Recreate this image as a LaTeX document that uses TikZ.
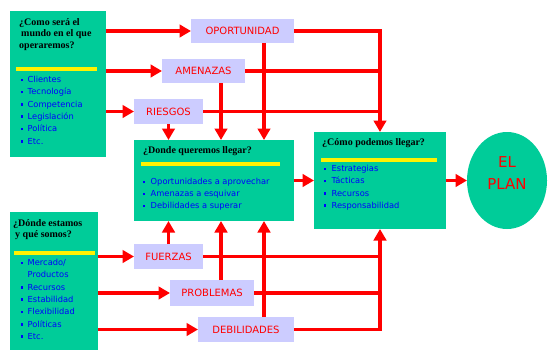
\documentclass[tikz,border=0pt]{standalone}
\usepackage{fontspec}
\setmainfont{Liberation Serif}
\setsansfont{DejaVu Sans}
\usetikzlibrary{arrows.meta,shapes.geometric}
\definecolor{boxgreen}{RGB}{0,204,153}
\definecolor{lav}{RGB}{204,204,255}
\newcommand\bul{\makebox[6.5pt][l]{\rule[1.5pt]{2pt}{2.5pt}}}
\begin{document}
\begin{tikzpicture}[x=1pt,y=-1pt,
  gbox/.style={fill=boxgreen,draw=none,inner sep=0,outer sep=0},
  lbox/.style={fill=lav,inner sep=0,outer sep=0,text=red,font=\sffamily\fontsize{10}{12}\selectfont},
  ttl/.style={anchor=north west,inner sep=0,font=\rmfamily\bfseries\fontsize{10}{11.5}\selectfont,align=left},
  lst/.style={anchor=north west,inner sep=0,text=blue,font=\sffamily\fontsize{8.3}{12.3}\selectfont,align=left},
  conn/.style={draw=red,line width=3.8pt},
  arr/.style={conn,-{Triangle[length=11.5pt,width=12.5pt]}},
  yl/.style={draw=yellow,line width=3.2pt}]
\useasboundingbox (0,0) rectangle (553,353);
\fill[white] (0,0) rectangle (553,353);
% green boxes
\node[gbox,minimum width=96pt,minimum height=146pt] (ltop) at (58,84) {};
\node[gbox,minimum width=88pt,minimum height=138pt] (lbot) at (54,281) {};
\node[gbox,minimum width=160pt,minimum height=81pt] (donde) at (214,180.5) {};
\node[gbox,minimum width=132pt,minimum height=97pt] (como) at (380,180.5) {};
\node[ellipse,gbox,minimum width=80pt,minimum height=97pt] (plan) at (507,180.5) {};
% lavender boxes
\node[lbox,minimum width=103pt,minimum height=24pt] (opp) at (242.5,31) {OPORTUNIDAD};
\node[lbox,minimum width=83pt,minimum height=24pt] (amen) at (203.5,71) {AMENAZAS};
\node[lbox,minimum width=69pt,minimum height=25pt] (ries) at (168.5,111.5) {RIESGOS};
\node[lbox,minimum width=69pt,minimum height=25pt] (fuer) at (168.5,256.5) {FUERZAS};
\node[lbox,minimum width=84pt,minimum height=26pt] (prob) at (212,293) {PROBLEMAS};
\node[lbox,minimum width=96pt,minimum height=25pt] (deb) at (246,329.5) {DEBILIDADES};
% yellow rules
\draw[yl] (16,69) -- (97,69);
\draw[yl] (14,253) -- (95,253);
\draw[yl] (141,164) -- (280,164);
\draw[yl] (321,160) -- (437,160);
% texts
\node[ttl] (t1) at (19,18) {¿Como será el\\\hspace{2pt}mundo en el que\\operaremos?};
\node[lst] (l1) at (21,76) {\bul Clientes\\\bul Tecnología\\\bul Competencia\\\bul Legislación\\\bul Política\\\bul Etc.};
\node[ttl] (t2) at (13,219) {¿Dónde estamos\\\hspace{2pt}y qué somos?};
\node[lst] (l2) at (21,259) {\bul Mercado/\\\hphantom{\bul}Productos\\\bul Recursos\\\bul Estabilidad\\\bul Flexibilidad\\\bul Políticas\\\bul Etc.};
\node[ttl] (t3) at (143,146) {¿Donde queremos llegar?};
\node[lst,font=\sffamily\fontsize{8.3}{12}\selectfont] (l3) at (143,178) {\bul\hspace{1pt}Oportunidades a aprovechar\\\bul\hspace{1pt}Amenazas a esquivar\\\bul\hspace{1pt}Debilidades a superar};
\node[ttl] (t4) at (322,138) {¿Cómo podemos llegar?};
\node[lst] (l4) at (324,165) {\bul\hspace{1pt}Estrategias\\\bul\hspace{1pt}Tácticas\\\bul\hspace{1pt}Recursos\\\bul\hspace{1pt}Responsabilidad};
\node[inner sep=0,text=red,align=center,font=\sffamily\fontsize{15}{22}\selectfont] (pt) at (507,173) {EL\\PLAN};
% connectors from left boxes
\draw[arr] (ltop.east |- opp.west) -- (opp.west);
\draw[arr] (ltop.east |- amen.west) -- (amen.west);
\draw[arr] (ltop.east |- ries.west) -- (ries.west);
\draw[arr] (lbot.east |- fuer.west) -- (fuer.west);
\draw[arr] (lbot.east |- prob.west) -- (prob.west);
\draw[arr] (lbot.east |- deb.west) -- (deb.west);
% top lines to como
\draw[arr] (opp.east) -| (como.north);
\draw[conn] (amen.east) -- (amen.east -| como.north);
\draw[conn] (ries.east) -- (ries.east -| como.north);
% down arrows
\draw[arr] (ries.south) -- (ries.south |- donde.north);
\draw[arr] ([xshift=17.5pt]amen.south) -- ([xshift=17.5pt]amen.south |- donde.north);
\draw[arr] ([xshift=21.5pt]opp.south) -- ([xshift=21.5pt]opp.south |- donde.north);
% up arrows
\draw[arr] (fuer.north) -- (fuer.north |- donde.south);
\draw[arr] ([xshift=9pt]prob.north) -- ([xshift=9pt]prob.north |- donde.south);
\draw[arr] ([xshift=18pt]deb.north) -- ([xshift=18pt]deb.north |- donde.south);
% bottom lines to como
\draw[conn] (fuer.east) -- (fuer.east -| como.south);
\draw[conn] (prob.east) -- (prob.east -| como.south);
\draw[arr] (deb.east) -| (como.south);
% middle
\draw[arr] (donde.east) -- (como.west);
\draw[arr] (como.east) -- (plan.west);
\end{tikzpicture}
\end{document}
